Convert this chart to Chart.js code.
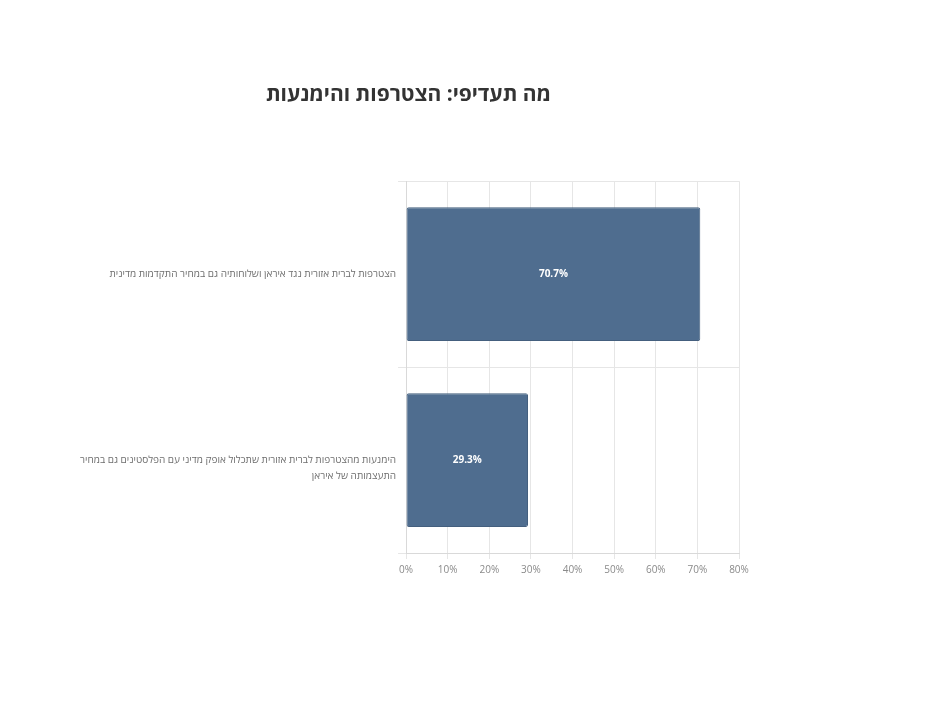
<!DOCTYPE html>
<html lang="he">
<head>
<meta charset="utf-8">
<script src="https://cdn.jsdelivr.net/npm/chart.js@4/dist/chart.umd.min.js"></script>
<style>
    html, body { margin: 0; padding: 0; background: #ffffff; }
    #wrap { width: 926px; height: 712px; }
</style>
</head>
<body>
<div id="wrap"><canvas id="graph1" width="926" height="712"></canvas></div>
<script>
// Data (START) ---------------------------------------------------
let chartTitle = "מה תעדיפי: הצטרפות והימנעות";

// Categories (second one is wrapped over two lines like in the original)
let categories = [
    "הצטרפות לברית אזורית נגד איראן ושלוחותיה גם במחיר התקדמות מדינית",
    ["הימנעות מהצטרפות לברית אזורית שתכלול אופק מדיני עם הפלסטינים גם במחיר", "התעצמותה של איראן"]
];

// Percent of answers
let answers = [70.7, 29.3];

// Tick labels of the value axis
let xTicks = [0, 10, 20, 30, 40, 50, 60, 70, 80];
// Data (END) -----------------------------------------------------

let fontFamily = "'Open Sans', 'Liberation Sans', 'DejaVu Sans', sans-serif";

// Small plugin that writes the value in the middle of every bar
let barValues = {
    id: "barValues",
    afterDatasetsDraw(chart) {
        let ctx = chart.ctx;
        let meta = chart.getDatasetMeta(0);
        ctx.save();
        ctx.fillStyle = "#ffffff";
        ctx.font = "bold 10px " + fontFamily;
        ctx.textAlign = "center";
        ctx.textBaseline = "middle";
        meta.data.forEach(function (bar, i) {
            let x = (bar.x + bar.base) / 2;
            ctx.fillText(answers[i].toFixed(1) + "%", x, bar.y);
        });
        ctx.restore();
    }
};

let canvas1 = document.getElementById("graph1").getContext("2d");

let chart1 = new Chart(canvas1, {
    type: "bar",
    data: {
        labels: categories,
        datasets: [{
            data: answers,
            backgroundColor: "#4f6d8f",
            borderColor: "#445f7e",
            borderWidth: 1,
            borderRadius: 2,
            borderSkipped: false,
            categoryPercentage: 0.8,
            barPercentage: 0.9
        }]
    },
    options: {
        responsive: false,
        animation: false,
        indexAxis: "y",
        layout: {
            padding: { top: 74, left: 78, right: 187, bottom: 131 }
        },
        plugins: {
            legend: { display: false },
            tooltip: { enabled: false },
            title: {
                display: true,
                text: chartTitle,
                color: "#333333",
                font: { family: fontFamily, size: 21, weight: "bold" },
                padding: { top: 8, bottom: 74 }
            }
        },
        scales: {
            x: {
                min: 0,
                max: 80,
                afterBuildTicks: function (axis) {
                    axis.ticks = xTicks.map(function (v) { return { value: v }; });
                },
                ticks: {
                    color: "#8a8a8a",
                    font: { family: fontFamily, size: 10 },
                    padding: 5,
                    callback: function (v) { return v + "%"; }
                },
                grid: { color: "#e6e6e6", tickLength: 6 },
                border: { color: "#d9d9d9" }
            },
            y: {
                ticks: {
                    color: "#6e6e6e",
                    font: { family: fontFamily, size: 10, lineHeight: 1.6 },
                    padding: 2,
                    // The original keeps the first line of a wrapped label on the bar centre
                    callback: function (v, i) {
                        let label = categories[i];
                        return Array.isArray(label) ? [""].concat(label) : label;
                    }
                },
                grid: { color: "#e6e6e6", tickLength: 8 },
                border: { color: "#d9d9d9" }
            }
        }
    },
    plugins: [barValues]
});
</script>
</body>
</html>
